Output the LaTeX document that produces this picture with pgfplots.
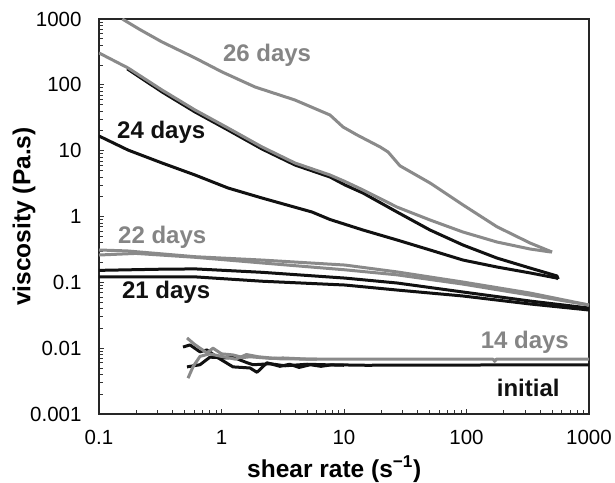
\documentclass[border=0pt]{standalone}
\usepackage{fontspec}
\setmainfont{Liberation Sans}
\usepackage{pgfplots}
\pgfplotsset{compat=1.18}
\definecolor{curvegray}{HTML}{8A8A8A}
\definecolor{labelgray}{HTML}{858585}
\definecolor{curveblack}{HTML}{111111}

\begin{document}
\begin{tikzpicture}
\begin{axis}[
  at={(0pt,0pt)}, anchor=south west,
  scale only axis, width=490pt, height=395pt,
  xmode=log, ymode=log,
  xmin=0.1, xmax=1000, ymin=0.001, ymax=1000,
  xtick={0.1,1,10,100,1000}, xticklabels={0.1,1,10,100,1000},
  ytick={0.001,0.01,0.1,1,10,100,1000},
  yticklabels={0.001,0.01,0.1,1,10,100,1000},
  tick align=inside, xtick pos=bottom, ytick pos=left,
  major tick length=5pt, minor tick length=4pt,
  tick style={black!80, line width=0.7pt},
  axis line style={black!85, line width=1.4pt},
  ticklabel style={font=\fontsize{20.5}{24}\selectfont},
  xticklabel style={yshift=-13pt},
  yticklabel style={xshift=-14pt},
  xlabel={shear rate (s\textsuperscript{−1})},
  ylabel={viscosity (Pa.s)},
  label style={font=\fontsize{24.5}{28}\selectfont\bfseries},
  xlabel style={at={(axis description cs:0.48,-0.1595)}, anchor=base},
  ylabel style={at={(axis description cs:-0.153,0.5)}, anchor=center},
  every axis plot/.append style={line width=3pt, line join=round, mark=none},
]
% 24 days (black), up and down sweeps
\addplot[curveblack] coordinates {(0.17,175) (0.327,78) (0.608,38.7) (1.13,20.6) (2.14,10.6) (3.98,6.06) (7.69,3.98) (10.2,3.01) (14.3,2.27) (27.1,1.17) (50.4,0.623) (93.6,0.369) (177,0.234) (330,0.165) (548,0.125) (560,0.112)};
\addplot[curveblack] coordinates {(0.1,16.7) (0.173,10.2) (0.327,6.50) (0.608,4.27) (1.13,2.71) (2.14,1.91) (5.48,1.17) (7.69,0.90) (14.3,0.623) (27.1,0.440) (50.4,0.310) (93.6,0.218) (177,0.171) (330,0.139) (548,0.116) (560,0.112)};
% 26 days (gray)
\addplot[curvegray] coordinates {(0.155,1000) (0.216,690) (0.327,448) (0.608,256) (1.01,157) (1.88,92.7) (3.98,58.8) (7.69,34.8) (9.82,22.9) (12.8,17.3) (19.7,11.4) (22.9,9.55) (28.6,5.9) (50.4,3.23) (93.6,1.50) (177,0.70) (330,0.396) (499,0.289)};
\addplot[curvegray] coordinates {(0.1,305) (0.173,180) (0.327,83.4) (0.608,41.5) (1.13,22.1) (2.14,11.4) (3.98,6.50) (7.69,4.27) (10.2,3.4) (14.3,2.53) (27.1,1.39) (50.4,0.885) (93.6,0.581) (177,0.410) (330,0.321) (480,0.29) (499,0.289)};
% 21 days (black)
\addplot[curveblack] coordinates {(0.1,0.152) (0.3,0.158) (0.61,0.16) (2.14,0.142) (10.2,0.116) (27.1,0.0977) (93.6,0.0713) (330,0.052) (1000,0.0407)};
\addplot[curveblack] coordinates {(0.1,0.121) (0.61,0.121) (2.14,0.104) (10.2,0.091) (27.1,0.0764) (93.6,0.062) (330,0.0469) (1000,0.038)};
% 22 days (gray)
\addplot[curvegray] coordinates {(0.1,0.31) (0.17,0.30) (0.61,0.245) (2.14,0.218) (10.2,0.183) (27.1,0.144) (93.6,0.101) (330,0.0688) (1000,0.0452)};
\addplot[curvegray] coordinates {(0.1,0.26) (0.2,0.275) (0.61,0.24) (2.14,0.197) (10.2,0.155) (27.1,0.13) (93.6,0.094) (330,0.064) (1000,0.0452)};
% initial (black)
\addplot[curveblack] coordinates {(0.485,0.0104) (0.553,0.0112) (0.667,0.0088) (0.761,0.0094) (0.919,0.0073) (1.24,0.0052) (1.71,0.0050) (1.95,0.0043) (2.35,0.0060) (3.0,0.0053) (3.6,0.0057) (4.3,0.0051) (5.3,0.0056) (6.5,0.0053) (8,0.0056) (15,0.0055) (1000,0.0056)};
\addplot[curveblack] coordinates {(0.523,0.0052) (0.667,0.0056) (0.805,0.0073) (1.11,0.0071) (1.24,0.0073) (1.62,0.0060) (1.81,0.0056) (2.5,0.0058) (3.3,0.0054) (5,0.0057) (10,0.0055)};
% 14 days (gray)
\addplot[curvegray] coordinates {(0.523,0.0143) (0.6,0.0115) (0.667,0.0100) (0.76,0.0085) (0.853,0.0100) (1.0,0.0082) (1.24,0.0079) (1.5,0.0072) (1.71,0.0074) (2.5,0.0070) (3.18,0.0071) (5.27,0.0068) (20,0.0068) (100,0.0068) (165,0.0068) (170,0.0063) (175,0.0068) (1000,0.0068)};
\addplot[curvegray] coordinates {(0.533,0.0035) (0.585,0.0052) (0.667,0.0075) (0.8,0.0082) (1.0,0.0075) (1.3,0.0068) (1.6,0.0080) (2.0,0.0074) (3,0.0069) (6,0.0068)};

\node[font=\fontsize{24}{28}\selectfont\bfseries, text=labelgray] at (rel axis cs:0.343,0.909) {26 days};
\node[font=\fontsize{24}{28}\selectfont\bfseries, text=curveblack] at (rel axis cs:0.127,0.714) {24 days};
\node[font=\fontsize{24}{28}\selectfont\bfseries, text=labelgray] at (rel axis cs:0.129,0.448) {22 days};
\node[font=\fontsize{24}{28}\selectfont\bfseries, text=curveblack] at (rel axis cs:0.137,0.309) {21 days};
\node[font=\fontsize{24}{28}\selectfont\bfseries, text=labelgray] at (rel axis cs:0.869,0.182) {14 days};
\node[font=\fontsize{24}{28}\selectfont\bfseries, text=curveblack] at (rel axis cs:0.876,0.066) {initial};
\end{axis}
\pgfresetboundingbox
\path[use as bounding box] (-99pt,-68pt) rectangle (516pt,414pt);
\end{tikzpicture}
\end{document}
